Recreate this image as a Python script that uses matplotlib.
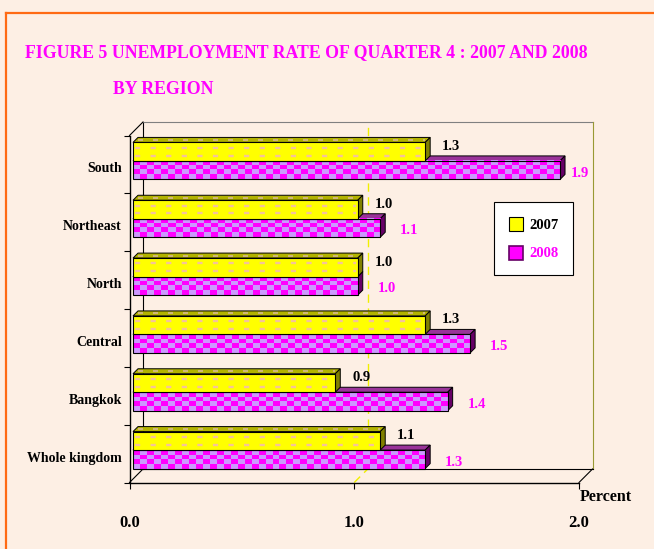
import matplotlib
matplotlib.use('Agg')
import matplotlib.pyplot as plt
import numpy as np
from matplotlib.patches import Polygon, Patch
from matplotlib.lines import Line2D
from matplotlib.colors import ListedColormap
import matplotlib.transforms as mtransforms

# data (bottom to top, as drawn)
regions = ['Whole kingdom', 'Bangkok', 'Central', 'North', 'Northeast', 'South']
rate_2007 = [1.1, 0.9, 1.3, 1.0, 1.0, 1.3]
rate_2008 = [1.3, 1.4, 1.5, 1.0, 1.1, 1.9]
years = ['2007', '2008']
x_ticks = [0.0, 1.0, 2.0]
x_labels = ['0.0', '1.0', '2.0']

W, H = 654, 549
bg = '#FDEFE4'
magenta = '#FF00FF'
yellow = '#FFFF00'

plt.rcParams['font.family'] = ['Liberation Serif', 'DejaVu Serif']
plt.rcParams['font.weight'] = 'bold'

fig = plt.figure(figsize=(W / 100, H / 100), dpi=100, facecolor=bg)

# front plane of the 3d box, in pixels
left, top, right, bottom = 129.5, 135.5, 579, 482.5
ax = fig.add_axes([left / W, 1 - bottom / H, (right - left) / W, (bottom - top) / H])
ax.set_facecolor('none')
n = len(regions)
ppx = (right - left) / 2.0
ppy = (bottom - top) / n

bdx, bdy = 13.5 / ppx, 13.5 / ppy   # back plane depth
sx, sy = 3.5 / ppx, 3.5 / ppy       # bars sit a bit behind front
fdx, fdy = 5 / ppx, 5 / ppy         # bar thickness
h = 18.5 / ppy

# box / walls
kw = dict(clip_on=False, lw=0.8, zorder=1)
ax.plot([bdx, bdx], [bdy, n + bdy], color='black', **kw)
ax.plot([bdx, 2 + bdx], [n + bdy, n + bdy], color='#808080', **kw)
ax.plot([2 + bdx, 2 + bdx], [bdy, n + bdy], color='#999933', **kw)
ax.plot([bdx, 2 + bdx], [bdy, bdy], color='black', **kw)
ax.plot([0, bdx], [0, bdy], color='black', **kw)
ax.plot([2, 2 + bdx], [0, bdy], color='black', **kw)
ax.plot([0, bdx], [n, n + bdy], color='black', **kw)
# gridline at 1.0
ax.plot([1 + bdx, 1 + bdx], [bdy, n + bdy], color='#F0F000', lw=1, dashes=(6, 4), clip_on=False, zorder=1)
ax.plot([1, 1 + bdx], [0, bdy], color='#F0F000', lw=1, dashes=(6, 4), clip_on=False, zorder=1)

ys = np.arange(n) + 0.5


def faces(x0, y0, y1, v, top_c, side_c, z):
    ax.add_patch(Polygon([(x0, y1), (x0 + fdx, y1 + fdy), (x0 + v + fdx, y1 + fdy), (x0 + v, y1)],
                         closed=True, facecolor=top_c, edgecolor='black', lw=0.7, zorder=z, clip_on=False))
    ax.add_patch(Polygon([(x0 + v, y0), (x0 + v + fdx, y0 + fdy), (x0 + v + fdx, y1 + fdy), (x0 + v, y1)],
                         closed=True, facecolor=side_c, edgecolor='black', lw=0.7, zorder=z, clip_on=False))


checker_cmap = ListedColormap([magenta, '#CC99FF'])

# 2008 bars (lower, behind)
for c, v in zip(ys, rate_2008):
    y0, y1 = c + sy - h, c + sy
    faces(sx, y0, y1, v, '#993399', '#660066', 3)
    ncol = max(1, int(round(v * ppx / 7)))
    checker = np.indices((4, ncol)).sum(axis=0) % 2
    ax.imshow(checker, extent=(sx, sx + v, y0, y1), cmap=checker_cmap, interpolation='nearest',
              aspect='auto', zorder=4.2)
ax.barh(ys + sy - h / 2, rate_2008, height=h, left=sx, facecolor='none', edgecolor='black',
        lw=0.8, zorder=4.4)

# 2007 bars (upper, front)
for c, v in zip(ys, rate_2007):
    y0, y1 = c + sy, c + sy + h
    faces(sx, y0, y1, v, '#B3B300', '#808000', 5)
    for fr in (0.29, 0.71):
        ax.plot([sx + 2 / ppx, sx + v - 2 / ppx], [y0 + fr * h] * 2, color='#F5C39A', lw=1.7,
                dashes=(2.2, 4.4), zorder=6.5)
    ax.plot([sx + fdx, sx + v], [y1 + fdy / 2] * 2, color='#D8B890', lw=1.2, dashes=(3, 6), zorder=5.5)
ax.barh(ys + sy + h / 2, rate_2007, height=h, left=sx, color=yellow, edgecolor='black',
        lw=0.8, zorder=6)

# value labels
xmax_lab = (580 - left) / ppx
for c, v in zip(ys, rate_2007):
    ax.text(min(sx + v + 26 / ppx, xmax_lab), c + sy + h - 4 / ppy, f'{v:.1f}',
            ha='center', va='center', fontsize=10.5, color='black', zorder=8)
for c, v in zip(ys, rate_2008):
    ax.text(min(sx + v + 29 / ppx, xmax_lab), c + sy - h / 2 - 3 / ppy, f'{v:.1f}',
            ha='center', va='center', fontsize=10.5, color=magenta, zorder=8)

ax.set_xlim(0, 2)
ax.set_ylim(0, n)
for s in ('top', 'right'):
    ax.spines[s].set_visible(False)
for s in ('left', 'bottom'):
    ax.spines[s].set_linewidth(1.0)
    ax.spines[s].set_zorder(2)

ax.set_xticks(x_ticks)
ax.set_xticklabels(x_labels)
ax.tick_params(axis='x', direction='out', length=4.3, width=0.8, pad=19, labelsize=12)
ax.set_yticks(range(n + 1))
ax.set_yticklabels([])
ax.tick_params(axis='y', which='major', direction='out', length=4.3, width=0.8)
ax.set_yticks(ys, minor=True)
ax.set_yticklabels(regions, minor=True)
ax.tick_params(axis='y', which='minor', length=0, pad=5.5, labelsize=10)
shift = mtransforms.ScaledTranslation(0, -3 / 100, fig.dpi_scale_trans)
for lbl in ax.get_yticklabels(minor=True):
    lbl.set_transform(lbl.get_transform() + shift)

# legend
handles = [Patch(facecolor=yellow, edgecolor='black', lw=0.8),
           Patch(facecolor=magenta, edgecolor='#660066', lw=1.2)]
leg = fig.legend(handles, years, loc='upper left', bbox_to_anchor=(494 / W, 1 - 202 / H),
                 borderaxespad=0, borderpad=1.0, handlelength=0.96, handleheight=1.1,
                 handletextpad=0.48, labelspacing=0.96, fancybox=False, framealpha=1,
                 facecolor='white', edgecolor='black', prop={'size': 10.5, 'weight': 'bold'},
                 labelcolor=['black', magenta])
leg.get_frame().set_linewidth(0.8)

# titles
fig.text(25 / W, 1 - 53 / H, 'FIGURE 5 UNEMPLOYMENT RATE OF QUARTER 4 : 2007 AND 2008',
         color=magenta, fontsize=12.75, ha='left', va='center')
fig.text(113 / W, 1 - 90 / H, 'BY REGION', color=magenta, fontsize=12.75, ha='left', va='center')
fig.text(580 / W, 1 - 497 / H, 'Percent', fontsize=11.5, ha='left', va='center')

# orange frame
fig.add_artist(Line2D([6 / W, 6 / W], [0, 1 - 12.5 / H], color='#FF6A13', lw=1.6))
fig.add_artist(Line2D([6 / W, 1], [1 - 12.5 / H, 1 - 12.5 / H], color='#FF6A13', lw=1.6))

fig.savefig('out.png', dpi=100, facecolor=bg)
